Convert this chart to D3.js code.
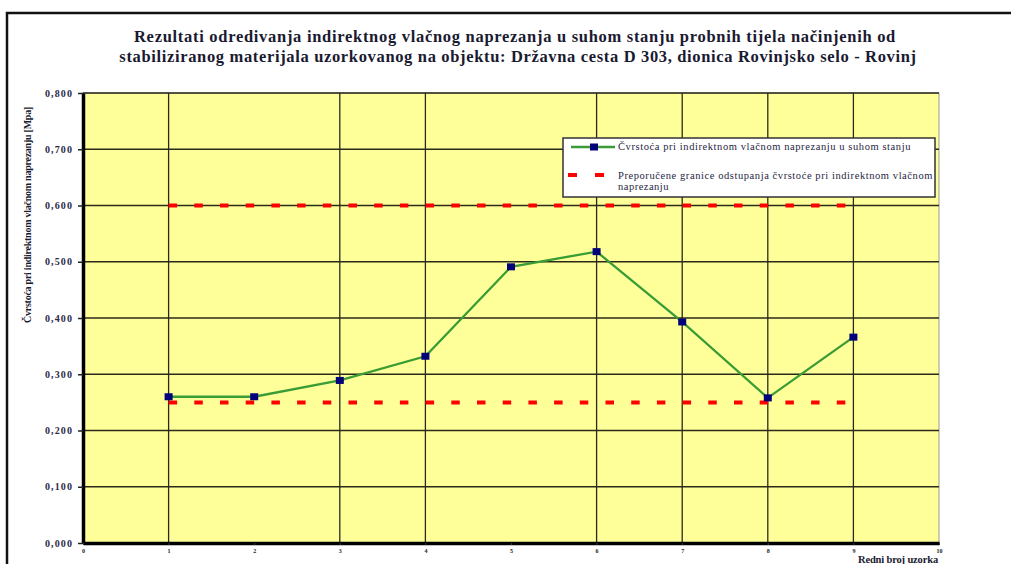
<!DOCTYPE html>
<html>
<head>
<meta charset="utf-8">
<script src="https://cdn.jsdelivr.net/npm/d3@7"></script>
<style>
  html, body { margin: 0; padding: 0; background: #fff; }
  svg { display: block; }
</style>
</head>
<body>
<svg id="chart" width="1011" height="564"></svg>
<script>
// Sample numbers (x) and measured indirect tensile strength in dry state [MPa]
const samples = [1, 2, 3, 4, 5, 6, 7, 8, 9];
const strength = [0.260, 0.260, 0.289, 0.332, 0.491, 0.518, 0.393, 0.258, 0.366];

// Recommended limits of deviation
const upperLimit = 0.600;
const lowerLimit = 0.250;
const limitRange = [1, 9];

// Axis ticks
const yTicks = [0, 0.1, 0.2, 0.3, 0.4, 0.5, 0.6, 0.7, 0.8];
const xTicks = [0, 1, 2, 3, 4, 5, 6, 7, 8, 9, 10];
const xGrid = [1, 3, 4, 6, 7, 8, 9];

const titleLines = [
  "Rezultati odredivanja indirektnog vlačnog naprezanja u suhom stanju probnih tijela načinjenih od",
  "stabiliziranog materijala uzorkovanog na objektu:  Državna cesta D 303, dionica Rovinjsko selo - Rovinj"
];
const yTitle = "Čvrstoća pri indirektnom vlačnom naprezanju [Mpa]";
const xTitle = "Redni broj uzorka";
const legendSeries = "Čvrstoća pri indirektnom vlačnom naprezanju u suhom stanju";
const legendLimits = ["Preporučene granice odstupanja čvrstoće pri indirektnom vlačnom", "naprezanju"];

const SERIF = '"Liberation Serif", "Times New Roman", serif';
const svg = d3.select("#chart");

const x = d3.scaleLinear().domain([0, 10]).range([83, 939]);
const y = d3.scaleLinear().domain([0, 0.8]).range([543, 93]);

const fmt = v => d3.format(".3f")(v).replace(".", ",");

// Adjust a text's letter spacing so that it spans the given width
function spreadTo(sel, width) {
  const node = sel.node();
  const w = node.getComputedTextLength();
  const n = sel.text().length;
  if (w > 0 && n > 1) sel.style("letter-spacing", ((width - w) / n) + "px");
  return sel;
}

function addText(parent, props) {
  const t = parent.append("text")
    .attr("x", props.x).attr("y", props.y)
    .attr("text-anchor", props.anchor || "start")
    .style("font-family", SERIF)
    .style("font-size", (props.size || 10) + "px")
    .style("font-weight", props.bold ? "bold" : "normal")
    .style("fill", props.fill || "#1a1a30")
    .text(props.text);
  if (props.transform) t.attr("transform", props.transform);
  if (props.width) spreadTo(t, props.width);
  return t;
}

// Outer frame
svg.append("rect")
  .attr("x", 7).attr("y", 13).attr("width", 1020).attr("height", 570)
  .attr("fill", "#fff").attr("stroke", "#111").attr("stroke-width", 2.5);

// Title
addText(svg, { x: 515, y: 42, anchor: "middle", size: 16.5, bold: true, width: 762, text: titleLines[0] });
addText(svg, { x: 518, y: 62, anchor: "middle", size: 16.5, bold: true, width: 798, text: titleLines[1] });

// Plot background
svg.append("rect")
  .attr("x", x(0)).attr("y", y(0.8))
  .attr("width", x(10) - x(0)).attr("height", y(0) - y(0.8))
  .attr("fill", "#ffff99").attr("stroke", "#999").attr("stroke-width", 1);

// Horizontal grid
svg.append("g").selectAll("line").data(yTicks.filter(d => d > 0)).join("line")
  .attr("x1", x(0)).attr("x2", x(10))
  .attr("y1", d => y(d)).attr("y2", d => y(d))
  .attr("stroke", "#2a2a1a").attr("stroke-width", d => d === 0.8 ? 1.5 : 1.3);

// Vertical grid
svg.append("g").selectAll("line").data(xGrid).join("line")
  .attr("x1", d => x(d)).attr("x2", d => x(d))
  .attr("y1", y(0.8)).attr("y2", y(0))
  .attr("stroke", "#2a2a1a").attr("stroke-width", 1.3);

// Y axis
const yAxis = d3.axisLeft(y).tickValues(yTicks).tickSize(5).tickSizeOuter(0).tickFormat(fmt);
const gy = svg.append("g").attr("transform", `translate(${x(0)},0)`).call(yAxis);
gy.select(".domain").attr("stroke", "#000").attr("stroke-width", 3.5);
gy.selectAll(".tick line").attr("stroke", "#222").attr("stroke-width", 1.5);
gy.selectAll(".tick text")
  .style("font-family", SERIF).style("font-size", "10px").style("font-weight", "bold")
  .style("fill", "#2b2b4a").attr("x", -10)
  .each(function () { spreadTo(d3.select(this), 28); });

// X axis
const xAxis = d3.axisBottom(x).tickValues(xTicks).tickSize(2).tickSizeOuter(0).tickFormat(d3.format("d"));
const gx = svg.append("g").attr("transform", `translate(0,${y(0)})`).call(xAxis);
gx.select(".domain").attr("stroke", "#000").attr("stroke-width", 3.5);
gx.selectAll(".tick line").attr("stroke", "#333");
gx.selectAll(".tick text")
  .style("font-family", SERIF).style("font-size", "6px").style("font-weight", "bold")
  .style("fill", "#222").attr("y", 6);

// Axis titles
addText(svg, { x: 0, y: 0, anchor: "middle", size: 10, bold: true, width: 216,
  transform: "translate(31,215) rotate(-90)", text: yTitle });
addText(svg, { x: 938, y: 563, anchor: "end", size: 10.5, bold: true, width: 80, text: xTitle });

// Limit lines
const limitLine = d3.line().x(d => x(d[0])).y(d => y(d[1]));
[upperLimit, lowerLimit].forEach(v => {
  svg.append("path")
    .attr("d", limitLine(limitRange.map(s => [s, v])))
    .attr("fill", "none").attr("stroke", "#ff0000").attr("stroke-width", 4)
    .attr("stroke-dasharray", "8.5,17.2");
});

// Data series
const series = samples.map((s, i) => [s, strength[i]]);
svg.append("path")
  .attr("d", d3.line().x(d => x(d[0])).y(d => y(d[1]))(series))
  .attr("fill", "none").attr("stroke", "#3a9c35").attr("stroke-width", 2.3);
svg.append("g").selectAll("rect").data(series).join("rect")
  .attr("x", d => x(d[0]) - 4).attr("y", d => y(d[1]) - 3.5)
  .attr("width", 8).attr("height", 7).attr("fill", "#00007a");

// Legend
const lg = svg.append("g");
lg.append("rect").attr("x", 563).attr("y", 138).attr("width", 372).attr("height", 59)
  .attr("fill", "#fff").attr("stroke", "#333").attr("stroke-width", 1.5);
lg.append("line").attr("x1", 571).attr("x2", 615).attr("y1", 147).attr("y2", 147)
  .attr("stroke", "#3a9c35").attr("stroke-width", 2.3);
lg.append("rect").attr("x", 590).attr("y", 143.5).attr("width", 8).attr("height", 7).attr("fill", "#00007a");
addText(lg, { x: 618, y: 150, size: 10.5, fill: "#26263f", width: 293, text: legendSeries });
lg.append("line").attr("x1", 568).attr("x2", 605).attr("y1", 175).attr("y2", 175)
  .attr("stroke", "#ff0000").attr("stroke-width", 4).attr("stroke-dasharray", "9,18");
addText(lg, { x: 618, y: 179, size: 10.5, fill: "#26263f", width: 315, text: legendLimits[0] });
addText(lg, { x: 618, y: 190, size: 10.5, fill: "#26263f", width: 51, text: legendLimits[1] });
</script>
</body>
</html>
